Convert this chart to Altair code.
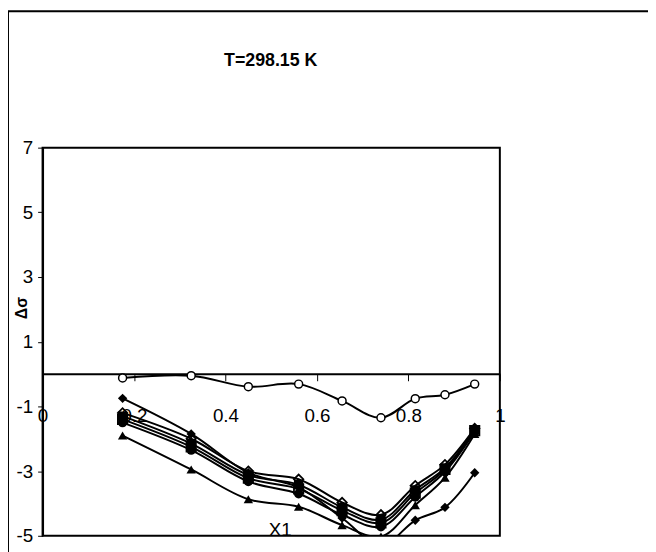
import altair as alt
import pandas as pd

# ---- data ----
x_vals = [0.175, 0.325, 0.45, 0.56, 0.655, 0.74, 0.815, 0.88, 0.945]
open_circle = [-0.12, -0.05, -0.39, -0.31, -0.83, -1.35, -0.76, -0.64, -0.31]
diamond = [-0.75, -1.85, -3.05, -3.5, -4.45, -5.3, -4.52, -4.12, -3.05]
asterisk = [-1.2, -2.0, -3.0, -3.25, -3.97, -4.35, -3.45, -2.8, -1.68]
square = [-1.3, -2.15, -3.12, -3.42, -4.12, -4.5, -3.58, -2.9, -1.72]
xmark = [-1.4, -2.25, -3.22, -3.55, -4.22, -4.6, -3.68, -2.95, -1.75]
fcircle = [-1.5, -2.35, -3.32, -3.7, -4.35, -4.72, -3.8, -3.02, -1.78]
triangle = [-1.9, -2.95, -3.87, -4.1, -4.67, -5.02, -4.05, -3.2, -1.85]

title_text = "T=298.15 K"
x_title = "X1"
y_title = "Δσ"
x_ticks = [0, 0.2, 0.4, 0.6, 0.8, 1.0]
y_ticks = [-5, -3, -1, 1, 3, 5, 7]

series = {
    "open circle": open_circle,
    "diamond": diamond,
    "asterisk": asterisk,
    "square": square,
    "x": xmark,
    "filled circle": fcircle,
    "triangle": triangle,
}
rows = []
for name, vals in series.items():
    for xv, yv in zip(x_vals, vals):
        rows.append({"series": name, "x1": xv, "ds": yv})
df = pd.DataFrame(rows)

FONT = "Liberation Sans, Arial, sans-serif"
W, H = 463, 393

x_enc = alt.X(
    "x1:Q",
    scale=alt.Scale(domain=[0, 1], nice=False),
    axis=alt.Axis(
        values=x_ticks, labelExpr="toString(datum.value)", offset=-164,
        grid=False, domainColor="black", domainWidth=2, tickColor="black",
        tickSize=7, tickWidth=1, labelPadding=26, labelFontSize=19,
        labelFont=FONT, labelColor="black", labelFlush=False,
        title=x_title, titleFont=FONT, titleFontSize=19, titleFontWeight="normal",
        titleColor="black", titleX=240, titleY=164, titleBaseline="alphabetic",
        titleAlign="center",
    ),
)
y_enc = alt.Y(
    "ds:Q",
    scale=alt.Scale(domain=[-5, 7], nice=False),
    axis=alt.Axis(
        values=y_ticks, labelExpr="toString(datum.value)", grid=False,
        domainColor="black", domainWidth=2, tickColor="black", tickSize=5,
        tickWidth=1, labelPadding=5, labelFontSize=19, labelFont=FONT,
        labelColor="black", title=y_title, titleFont=FONT, titleFontSize=16,
        titleFontWeight="bold", titleColor="black", titleX=-21, titleY=162,
        titleAlign="center", titleBaseline="middle", titleAngle=-90,
    ),
)

base = alt.Chart(df)

lines = base.mark_line(
    interpolate="catmull-rom", color="black", strokeWidth=2, clip=True
).encode(x=x_enc, y=y_enc, detail="series:N")

filled_pts = base.transform_filter(
    alt.FieldOneOfPredicate(field="series", oneOf=["diamond", "square", "triangle", "filled circle"])
).mark_point(filled=True, color="black", size=90, opacity=1, clip=True).encode(
    x=x_enc, y=y_enc,
    shape=alt.Shape(
        "series:N",
        scale=alt.Scale(
            domain=["diamond", "square", "triangle", "filled circle"],
            range=["diamond", "square", "triangle-up", "circle"],
        ),
        legend=None,
    ),
)

open_pts = base.transform_filter(
    alt.FieldEqualPredicate(field="series", equal="open circle")
).mark_point(
    shape="circle", filled=True, fill="white", stroke="black", strokeWidth=1.5,
    size=65, opacity=1, clip=True
).encode(x=x_enc, y=y_enc)

ast_pts = base.transform_filter(
    alt.FieldOneOfPredicate(field="series", oneOf=["asterisk", "x"])
).mark_point(filled=False, color="black", strokeWidth=1.8, size=90, opacity=1, clip=True).encode(
    x=x_enc, y=y_enc,
    shape=alt.Shape(
        "series:N",
        scale=alt.Scale(
            domain=["asterisk", "x"],
            range=[
                "M0,-1L0,1M-0.87,-0.5L0.87,0.5M-0.87,0.5L0.87,-0.5",
                "M-0.8,-0.8L0.8,0.8M-0.8,0.8L0.8,-0.8",
            ],
        ),
        legend=None,
    ),
)

one = pd.DataFrame({"t": [title_text]})

frame = alt.Chart(one).mark_rect(
    filled=False, stroke="black", strokeWidth=2
).encode(
    x=alt.value(-35), x2=alt.value(900), y=alt.value(-138), y2=alt.value(900)
)

title_mark = alt.Chart(one).mark_text(
    font=FONT, fontSize=18, fontWeight="bold", color="black",
    align="center", baseline="alphabetic"
).encode(text="t:N", x=alt.value(231), y=alt.value(-83))

chart = alt.layer(frame, title_mark, lines, open_pts, filled_pts, ast_pts).properties(
    width=W, height=H,
    background="white",
    autosize=alt.AutoSizeParams(type="none"),
    padding={"left": 35, "top": 138, "right": 150, "bottom": 13},
).configure_view(stroke="black", strokeWidth=2)

chart.save("out.html", embed_options={"renderer": "svg", "actions": False})
